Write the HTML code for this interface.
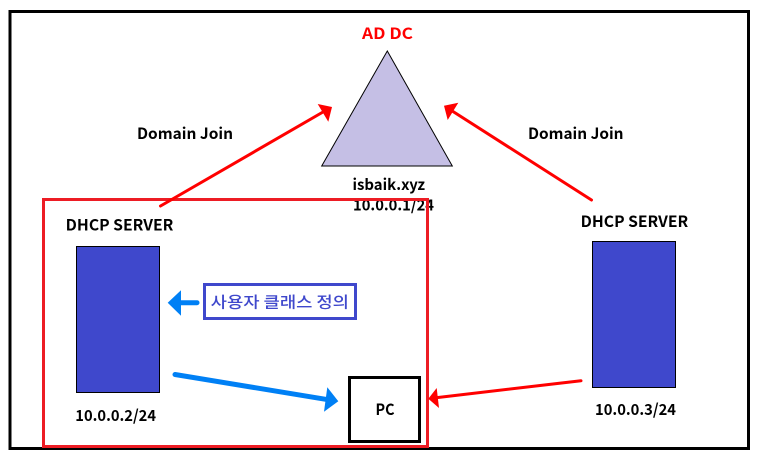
<!DOCTYPE html>
<html><head><meta charset="utf-8"><style>
html,body{margin:0;padding:0;background:#fff;width:759px;height:459px;overflow:hidden}
svg{display:block}
text{font-family:"Noto Sans CJK KR","Liberation Sans",sans-serif;font-size:15.5px;font-weight:700;fill:#000}
</style></head><body>
<svg width="759" height="459" viewBox="0 0 759 459" xmlns="http://www.w3.org/2000/svg">
<rect x="10" y="11.5" width="738.5" height="437" fill="#fff" stroke="#000" stroke-width="3"/>
<polygon points="387.3,51 452.3,166 321.7,166" fill="#c5bfe5" stroke="#000" stroke-width="1"/>
<text x="362" y="39" textLength="51" lengthAdjust="spacingAndGlyphs" style="fill:#f00">AD DC</text>
<text x="137" y="139" textLength="96" lengthAdjust="spacingAndGlyphs">Domain Join</text>
<text x="528" y="139" textLength="95.5" lengthAdjust="spacingAndGlyphs">Domain Join</text>
<text x="352.5" y="190" textLength="72.5" lengthAdjust="spacingAndGlyphs">isbaik.xyz</text>
<text x="353" y="210.5" textLength="81" lengthAdjust="spacingAndGlyphs">10.0.0.1/24</text>
<rect x="43.5" y="199.5" width="384" height="247" fill="none" stroke="#ed1c24" stroke-width="3"/>
<text x="65.7" y="230.5" textLength="107.7" lengthAdjust="spacingAndGlyphs">DHCP SERVER</text>
<text x="580.7" y="227" textLength="107.5" lengthAdjust="spacingAndGlyphs">DHCP SERVER</text>
<rect x="76.5" y="246.5" width="83" height="146" fill="#3f48cc" stroke="#000" stroke-width="1"/>
<rect x="592.5" y="241.5" width="83" height="146" fill="#3f48cc" stroke="#000" stroke-width="1"/>
<text x="75.3" y="421" textLength="80.7" lengthAdjust="spacingAndGlyphs">10.0.0.2/24</text>
<text x="595" y="415" textLength="81" lengthAdjust="spacingAndGlyphs">10.0.0.3/24</text>
<rect x="204.5" y="284.5" width="151" height="34" fill="#fff" stroke="#3f48cc" stroke-width="3"/>
<text x="210.7" y="307.5" textLength="138.3" lengthAdjust="spacingAndGlyphs" style="fill:#3f48cc;font-weight:500">사용자 클래스 정의</text>
<rect x="349.5" y="377.5" width="70" height="64" fill="#fff" stroke="#000" stroke-width="3"/>
<text x="375.5" y="415" textLength="19" lengthAdjust="spacingAndGlyphs">PC</text>
<g fill="none" stroke-linecap="round">
<line x1="160.5" y1="206" x2="323" y2="112" stroke="#f00" stroke-width="3"/>
<line x1="591.5" y1="200" x2="453" y2="111.5" stroke="#f00" stroke-width="3"/>
<line x1="581" y1="380.7" x2="438" y2="397.5" stroke="#f00" stroke-width="3"/>
<line x1="197" y1="302.7" x2="178" y2="302.7" stroke="#0080f5" stroke-width="5"/>
<line x1="175" y1="374.5" x2="328" y2="399.7" stroke="#0080f5" stroke-width="5"/>
</g>
<polygon points="332,107 317.7,104 328.3,121.7" fill="#f00"/>
<polygon points="444,105.7 458.3,102.7 447.7,120" fill="#f00"/>
<polygon points="428.3,398.7 436.7,388 439,408" fill="#f00"/>
<polygon points="167.7,302.7 181,290.3 181,315.7" fill="#0080f5"/>
<polygon points="338.3,401.3 327.3,387.3 324,411.7" fill="#0080f5"/>
</svg>
</body></html>
